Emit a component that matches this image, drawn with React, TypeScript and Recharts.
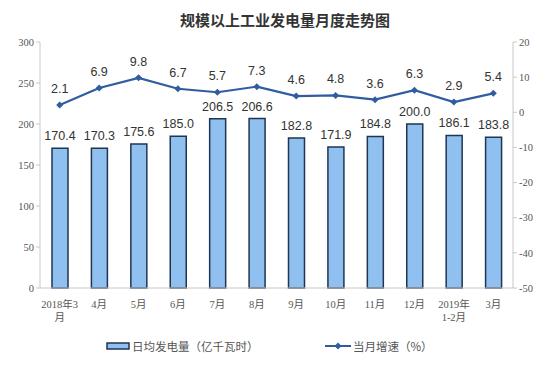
import { ComposedChart, Bar, Line, XAxis, YAxis, LabelList, Legend } from 'recharts';

const months = ['2018年3\n月', '4月', '5月', '6月', '7月', '8月', '9月', '10月', '11月', '12月', '2019年\n1-2月', '3月'];
const dailyOutput = [170.4, 170.3, 175.6, 185.0, 206.5, 206.6, 182.8, 171.9, 184.8, 200.0, 186.1, 183.8];
const growth = [2.1, 6.9, 9.8, 6.7, 5.7, 7.3, 4.6, 4.8, 3.6, 6.3, 2.9, 5.4];
const leftTicks = [0, 50, 100, 150, 200, 250, 300];
const rightTicks = [-50, -40, -30, -20, -10, 0, 10, 20];

const data = months.map((m, i) => ({ month: m, output: dailyOutput[i], growth: growth[i] }));

const BAR_FILL = '#8fc0f0';
const BAR_STROKE = '#1f3552';
const LINE = '#2f5d9e';
const AXIS = '#c8c8c8';
const serif = '"Liberation Serif", "Noto Sans CJK SC", serif';
const sans = '"Liberation Sans", Arial, "Noto Sans CJK SC", sans-serif';

const MonthTick = (props: any) => {
  const { x, y, payload } = props;
  const lines = String(payload.value).split('\n');
  return (
    <text x={x} y={y + 8} textAnchor="middle" fontSize={10.5} fill="#555" fontFamily={serif}>
      {lines.map((l, i) => (
        <tspan key={i} x={x} dy={i === 0 ? 4 : 13}>{l}</tspan>
      ))}
    </text>
  );
};

const Diamond = (props: any) => {
  const { cx, cy } = props;
  if (cx == null || cy == null) return null;
  return <path d={`M${cx},${cy - 3.5}L${cx + 3.5},${cy}L${cx},${cy + 3.5}L${cx - 3.5},${cy}Z`} fill={LINE} />;
};

const LegendContent = () => (
  <div style={{ position: 'relative', height: 20, fontFamily: '"Noto Sans CJK SC", sans-serif', fontSize: 11.5, color: '#555' }}>
    <div style={{ position: 'absolute', left: 106, top: 2, display: 'flex', alignItems: 'center' }}>
      <svg width={24} height={10}>
        <rect x={1} y={2} width={22} height={6} fill={BAR_FILL} stroke={BAR_STROKE} strokeWidth={1.5} />
      </svg>
      <span style={{ marginLeft: 2 }}>日均发电量（亿千瓦时）</span>
    </div>
    <div style={{ position: 'absolute', left: 325, top: 2, display: 'flex', alignItems: 'center' }}>
      <svg width={26} height={10}>
        <line x1={0} y1={5} x2={26} y2={5} stroke={LINE} strokeWidth={2} />
        <path d="M13,1.5L16.5,5L13,8.5L9.5,5Z" fill={LINE} />
      </svg>
      <span style={{ marginLeft: 2 }}>当月增速（%）</span>
    </div>
  </div>
);

export default function App() {
  return (
    <div style={{ position: 'fixed', left: 0, top: 0, width: 552, height: 379, background: '#fff' }}>
      <ComposedChart
        width={552}
        height={379}
        data={data}
        margin={{ top: 42, right: 0, left: 0, bottom: 0 }}
      >
        <text x={285} y={26} textAnchor="middle" fontSize={15} fontWeight={600} fill="#333" fontFamily='"Noto Sans CJK SC", sans-serif'>
          规模以上工业发电量月度走势图
        </text>
        <XAxis
          dataKey="month"
          height={91}
          interval={0}
          tick={<MonthTick />}
          tickLine={false}
          axisLine={{ stroke: AXIS }}
        />
        <YAxis
          yAxisId="left"
          width={40}
          domain={[0, 300]}
          ticks={leftTicks}
          interval={0}
          tick={{ fontSize: 10.5, fill: '#555', fontFamily: serif }}
          tickLine={{ stroke: AXIS }}
          tickSize={4}
          axisLine={{ stroke: AXIS }}
        />
        <YAxis
          yAxisId="right"
          orientation="right"
          width={39}
          domain={[-50, 20]}
          ticks={rightTicks}
          interval={0}
          tick={{ fontSize: 10.5, fill: '#555', fontFamily: serif }}
          tickLine={{ stroke: AXIS }}
          tickSize={4}
          axisLine={{ stroke: AXIS }}
        />
        <Legend
          layout="horizontal"
          verticalAlign="middle"
          align="center"
          content={<LegendContent />}
          wrapperStyle={{ top: 336, left: 0, width: 552, height: 20 }}
        />
        <Bar
          yAxisId="left"
          dataKey="output"
          barSize={16}
          fill={BAR_FILL}
          stroke={BAR_STROKE}
          strokeWidth={1.5}
          isAnimationActive={false}
        >
          <LabelList dataKey="output" position="top" offset={8} formatter={(v: any) => Number(v).toFixed(1)} style={{ fontSize: 12.5, fill: '#333', fontFamily: sans }} />
        </Bar>
        <Line
          yAxisId="right"
          dataKey="growth"
          stroke={LINE}
          strokeWidth={2.2}
          dot={<Diamond />}
          activeDot={false}
          isAnimationActive={false}
        >
          <LabelList dataKey="growth" position="top" offset={12} formatter={(v: any) => Number(v).toFixed(1)} style={{ fontSize: 12.5, fill: '#333', fontFamily: sans }} />
        </Line>
      </ComposedChart>
    </div>
  );
}
